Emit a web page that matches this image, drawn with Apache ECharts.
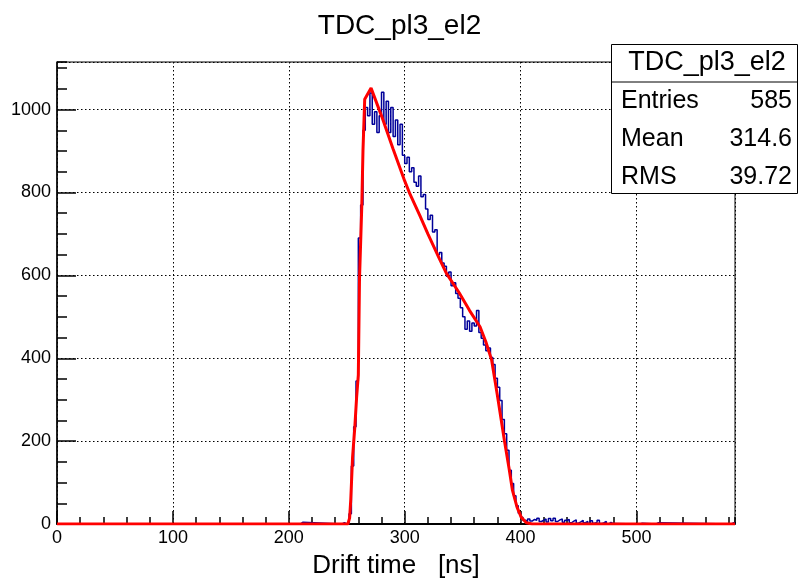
<!DOCTYPE html>
<html>
<head>
<meta charset="utf-8">
<script src="https://cdn.jsdelivr.net/npm/echarts@6/dist/echarts.min.js"></script>
<style>html,body{margin:0;padding:0;background:#fff;}#chart{width:799px;height:580px;}</style>
</head>
<body>
<div id="chart"></div>
<script>
// ---- data ----
const chartTitle = 'TDC_pl3_el2';
const xAxisTitle = 'Drift time   [ns]';
const xRange = [0, 585];
const yRange = [0, 1115];
const xMajor = 100, xMinor = 20;
const yMajor = 200, yMinor = 50;

// histogram: bin lower edges (ns) and contents; last edge closes the final bin
const histEdgesLow = [0, 210, 212, 246, 248];
const histCountsLow = [0, 4, 0, 3, 0];
const peakStart = 250, peakBinWidth = 2;
const peakCounts = [
  2, 25, 140, 235, 345, 690, 770, 950, 1005, 985,
  1040, 965, 995, 945, 985, 1042, 965, 1020, 945, 1005,
  935, 975, 915, 965, 890, 870, 885, 850, 860, 825,
  815, 840, 790, 795, 760, 735, 745, 705, 710, 650,
  655, 630, 622, 598, 608, 575, 582, 556, 545, 522,
  500, 470, 490, 465, 485, 478, 515, 462, 448, 432,
  418, 425, 402, 385, 352, 330, 298, 252, 218, 178,
  130, 98, 68, 44, 26, 16, 9, 6, 12, 7,
  11, 9, 14, 6, 9, 12, 5, 13, 8, 14,
  6, 10, 12, 4, 9, 11, 3, 7, 10, 2,
  5, 9, 3, 6, 1, 8, 2, 4, 9, 1,
  3, 6, 0, 4, 1
];
const histEdgesHigh = [480, 503, 505, 517, 519, 582, 584];
const histCountsHigh = [0, 2, 0, 3, 0, 3, 0];
const histLastEdge = 585;

// fit curve (ns, counts)
const fitT = [0, 251, 252.5, 253.5, 255, 257, 258.5, 260, 261, 263, 264, 265.5, 271,
  280, 290, 300, 304, 313, 320, 330, 336, 347, 356, 365, 370, 375, 380, 386, 390,
  393, 397, 400.6, 405, 410, 585];
const fitY = [0, 0, 15, 60, 160, 235, 305, 360, 590, 770, 900, 1025, 1052,
  985, 905, 828, 800, 745, 700, 640, 605, 558, 515, 476, 440, 396, 310, 202, 135,
  81, 40, 16, 3, 0, 0];

const statsLabels = ['Entries', 'Mean', 'RMS'];
const statsValues = ['585', '314.6', '39.72'];

// ---- build series data ----
const histPts = [];
histEdgesLow.forEach((e, i) => histPts.push([e, histCountsLow[i]]));
peakCounts.forEach((c, i) => histPts.push([peakStart + i * peakBinWidth, c]));
histEdgesHigh.forEach((e, i) => histPts.push([e, histCountsHigh[i]]));
histPts.push([histLastEdge, histCountsHigh[histCountsHigh.length - 1]]);
const fitPts = fitT.map((t, i) => [t, fitY[i]]);

const FONT = 'Liberation Sans, Arial, Helvetica, sans-serif';
const chart = echarts.init(document.getElementById('chart'), null, {renderer: 'canvas'});

const statsGraphics = [
  {type: 'rect', shape: {x: 611.5, y: 44.5, width: 186, height: 149},
   style: {fill: '#fff', stroke: '#000', lineWidth: 1}, z: 100},
  {type: 'line', shape: {x1: 611.5, y1: 82, x2: 797.5, y2: 82},
   style: {stroke: '#000', lineWidth: 1}, z: 101},
  {type: 'text', x: 707, y: 63, z: 101,
   style: {text: chartTitle, fill: '#000', font: '27px ' + FONT, textAlign: 'center', textVerticalAlign: 'middle'}}
];
statsLabels.forEach((lab, i) => {
  const yy = 101 + i * 38;
  statsGraphics.push({type: 'text', x: 621, y: yy, z: 101,
    style: {text: lab, fill: '#000', font: '25px ' + FONT, textAlign: 'left', textVerticalAlign: 'middle'}});
  statsGraphics.push({type: 'text', x: 792, y: yy, z: 101,
    style: {text: statsValues[i], fill: '#000', font: '25px ' + FONT, textAlign: 'right', textVerticalAlign: 'middle'}});
});

const plainNum = v => String(v);

const option = {
  animation: false,
  backgroundColor: '#fff',
  title: {
    text: chartTitle, left: 'center', top: 7,
    textStyle: {fontFamily: FONT, fontSize: 28, fontWeight: 'normal', color: '#000'}
  },
  grid: {left: 57, right: 64, top: 62, bottom: 56, show: true, borderColor: '#000', borderWidth: 1,
         backgroundColor: 'transparent', containLabel: false, outerBoundsMode: 'none'},
  xAxis: [
    {
      type: 'value', min: xRange[0], max: xRange[1], interval: xMajor, position: 'bottom',
      axisLine: {show: true, onZero: false, lineStyle: {color: '#000', width: 2}},
      axisTick: {show: true, inside: true, length: 13, lineStyle: {color: '#000', width: 1.5}},
      axisLabel: {color: '#000', fontFamily: FONT, fontSize: 18, margin: 5, showMaxLabel: false, formatter: plainNum},
      splitLine: {show: true, lineStyle: {color: '#000', width: 1, type: [1.5, 2.5]}},
      name: xAxisTitle, nameLocation: 'middle', nameGap: 29,
      nameTextStyle: {fontFamily: FONT, fontSize: 26, color: '#000'}
    },
    {
      type: 'value', min: xRange[0], max: xRange[1], interval: xMinor, position: 'bottom',
      axisLine: {show: false, onZero: false},
      axisTick: {show: true, inside: true, length: 7, lineStyle: {color: '#000', width: 1.5}},
      axisLabel: {show: false}, splitLine: {show: false}
    }
  ],
  yAxis: [
    {
      type: 'value', min: yRange[0], max: yRange[1], interval: yMajor, position: 'left',
      axisLine: {show: true, onZero: false, lineStyle: {color: '#000', width: 1.5}},
      axisTick: {show: true, inside: true, length: 19, lineStyle: {color: '#000', width: 1.5}},
      axisLabel: {color: '#000', fontFamily: FONT, fontSize: 18, margin: 6, showMaxLabel: false, formatter: plainNum},
      splitLine: {show: true, lineStyle: {color: '#000', width: 1, type: [1.5, 2.5]}}
    },
    {
      type: 'value', min: yRange[0], max: yRange[1], interval: yMinor, position: 'left',
      axisLine: {show: false, onZero: false},
      axisTick: {show: true, inside: true, length: 10, lineStyle: {color: '#000', width: 1.5}},
      axisLabel: {show: false}, splitLine: {show: false}
    }
  ],
  series: [
    {
      type: 'line', name: 'hist', xAxisIndex: 0, yAxisIndex: 0, data: histPts, step: 'end',
      showSymbol: false, symbol: 'none', lineStyle: {color: '#000099', width: 1.5}, z: 3
    },
    {
      type: 'line', name: 'fit', xAxisIndex: 0, yAxisIndex: 0, data: fitPts,
      showSymbol: false, symbol: 'none', lineStyle: {color: '#ff0000', width: 3}, z: 4
    }
  ],
  graphic: statsGraphics
};
chart.setOption(option);
</script>
</body>
</html>
